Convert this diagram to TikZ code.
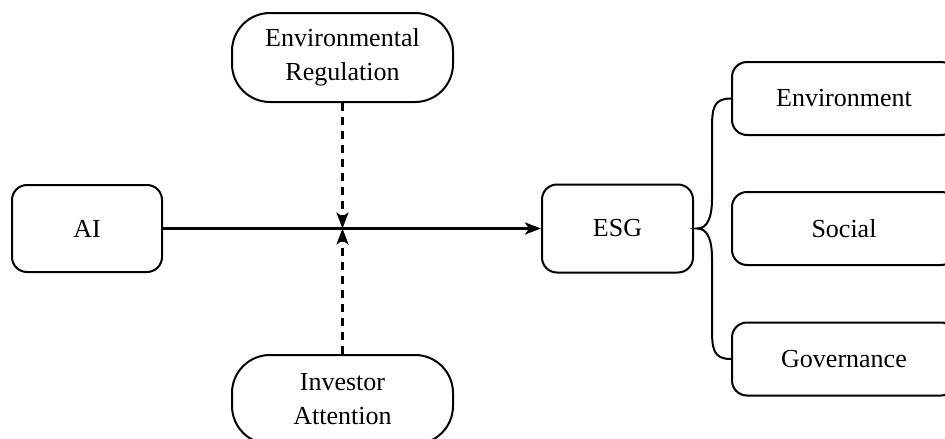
\documentclass[tikz,border=0pt]{standalone}
\usepackage{fontspec}
\setmainfont{Liberation Serif}
\usetikzlibrary{arrows.meta,calc}
\begin{document}
\begin{tikzpicture}[x=1pt,y=-1pt,
  box/.style={draw, line width=2pt, rounded corners=15pt, align=center, inner sep=0pt,
    font=\fontsize{26}{34}\selectfont},
  pill/.style={box, rounded corners=38pt},
  mainarrow/.style={line width=2.6pt, -{Stealth[length=16pt,width=12pt,inset=4pt]}},
  dasharrow/.style={line width=2.6pt, dash pattern=on 8pt off 6pt, -{Stealth[length=16pt,width=12pt,inset=4pt]}},
  bracestyle/.style={line width=2pt}]
\useasboundingbox (0,0) rectangle (945,439);
\node[box, minimum width=150pt, minimum height=87pt] (ai) at (87,228.5) {AI};
\node[box, minimum width=151pt, minimum height=88pt] (esg) at (617.5,228.5) {ESG};
\node[pill, minimum width=221pt, minimum height=89pt] (reg) at (342.5,57.5) {Environmental\\Regulation};
\node[pill, minimum width=221pt, minimum height=89pt] (inv) at (342.5,399.5) {Investor\\Attention};
\node[box, minimum width=224pt, minimum height=73pt] (env) at (844,98.5) {Environment};
\node[box, minimum width=224pt, minimum height=73pt] (soc) at (844,228.5) {Social};
\node[box, minimum width=224pt, minimum height=73pt] (gov) at (844,359) {Governance};
\coordinate (j) at (reg.south |- ai.east);
\coordinate (bx) at (712,0);
\coordinate (tip) at ($(esg.east)+(3,0)$);
\draw[mainarrow] (ai.east) -- (esg.west);
\draw[dasharrow] (reg.south) -- (j);
\draw[dasharrow] (inv.north) -- (j);
\draw[bracestyle] (env.west) .. controls +(-18,0) and +(0,-22) .. ($(bx |- env.west)+(0,32)$)
  -- ($(bx |- esg.east)+(0,-30)$) .. controls +(0,20) and +(10,0) .. (tip)
  .. controls +(10,0) and +(0,-20) .. ($(bx |- esg.east)+(0,30)$)
  -- ($(bx |- gov.west)+(0,-32)$) .. controls +(0,22) and +(-18,0) .. (gov.west);
\end{tikzpicture}
\end{document}
